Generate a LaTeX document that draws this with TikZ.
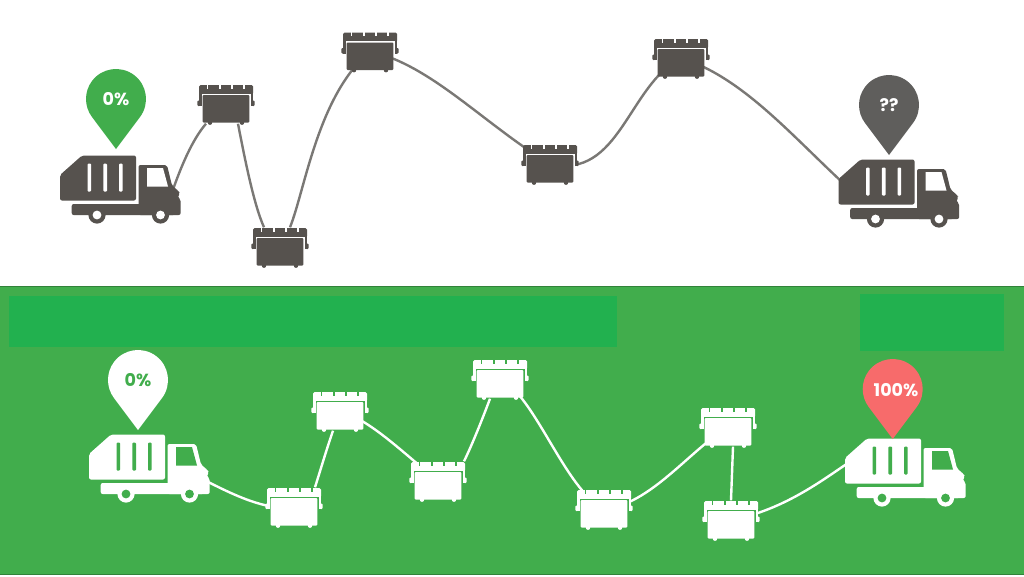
\documentclass[tikz,border=0pt]{standalone}
\usepackage{fontspec}
\setmainfont{Poppins}
\definecolor{darkfg}{HTML}{56524E}
\definecolor{linegray}{HTML}{7A7875}
\definecolor{pingray}{HTML}{5F5E5C}
\definecolor{panel}{HTML}{41AD4C}
\definecolor{band}{HTML}{22B14F}
\definecolor{coral}{HTML}{F76B6B}
\tikzset{
  dumpspot/.style={inner sep=0pt,minimum width=54pt,minimum height=39pt},
  truckspot/.style={inner sep=0pt,minimum width=121pt,minimum height=68pt},
  topline/.style={draw=linegray,line width=2.4pt},
  lowline/.style={draw=white,line width=2.4pt},
  pinlabel/.style={font=\fontsize{17.5}{17.5}\selectfont\bfseries,inner sep=0pt},
  pics/dumpster/.style n args={2}{code={
    \fill[#1,rounded corners=1.5pt] (-27,-19) rectangle (27,-9.5);
    \fill[#1] (-27,-12) rectangle (-24.5,2);
    \fill[#1] (24.5,-12) rectangle (27,2);
    \fill[#1,rounded corners=1pt] (-28.7,-3.5) rectangle (-26,2);
    \fill[#1,rounded corners=1pt] (26,-3.5) rectangle (28.7,2);
    \fill[#2] (-24.5,-10.5) rectangle (24.5,3);
    \fill[#1,rounded corners=1pt] (-23.3,-9) rectangle (23.3,18.5);
    \fill[#1] (-16,18.7) circle (2.2);
    \fill[#1] (16,18.7) circle (2.2);
    \foreach \nx in {-18.5,-6.3,5.7,18}
      \fill[#2] (\nx-0.8,-19.5) rectangle (\nx+0.8,-15.5);
  }},
  pics/garbagetruck/.style n args={2}{code={
    % cargo body
    \fill[#1,rounded corners=2pt] (0,20) -- (0,45.5) -- (76,45.5) -- (76,0.5) -- (22,0.5) -- cycle;
    \foreach \sx in {27.5,43.3,59}
      \fill[#2,rounded corners=1pt] (\sx,8.5) rectangle (\sx+3.7,36.5);
    % chassis
    \fill[#1,rounded corners=2pt] (11.7,49) rectangle (115,60);
    % cab
    \fill[#1,rounded corners=2pt] (78.5,60) -- (78.5,10) -- (107,10) -- (112,30.5) -- (118.5,36) -- (120.5,38.5) -- (117.5,41.5) -- (120.7,44.5) -- (120.7,55) -- (120.7,60) -- cycle;
    \fill[#2] (87,13) -- (103,13) -- (108,31.5) -- (87,31.5) -- cycle;
    % wheels
    \foreach \wx in {37,100.5} {
      \fill[#1] (\wx,60) circle (8.6);
      \fill[#2] (\wx,60) circle (4.4);
    }
  }},
  pics/mapin/.style={code={
    \fill[#1,line join=round] (0,50) -- (24,18) arc[start angle=36.87,end angle=-216.87,radius=30] -- cycle;
  }}
}
\begin{document}
\begin{tikzpicture}[x=1pt,y=-1pt]
\useasboundingbox (0,0) rectangle (1024,576);
\fill[white] (0,0) rectangle (1024,576);
\filldraw[fill=panel,draw=black!25!panel,line width=0.8pt] (-1,286.5) rectangle (1025,574);
\fill[band] (9,296) rectangle (617,347);
\fill[band] (860,294) rectangle (1004,351);

% anchors
\node[truckspot] (t1) at (120.5,189) {};
\node[truckspot] (t2) at (899,193) {};
\node[dumpspot] (d1) at (226,104) {};
\node[dumpspot] (d2) at (280,247) {};
\node[dumpspot] (d3) at (370,51.5) {};
\node[dumpspot] (d4) at (550,164) {};
\node[dumpspot] (d5) at (681,58) {};
\node[truckspot] (t3) at (149.5,468) {};
\node[truckspot] (t4) at (905.5,472) {};
\node[dumpspot] (e1) at (294,507) {};
\node[dumpspot] (e2) at (340,411) {};
\node[dumpspot] (e3) at (438,481) {};
\node[dumpspot] (e4) at (500,379) {};
\node[dumpspot] (e5) at (604,509) {};
\node[dumpspot] (e6) at (728,427) {};
\node[dumpspot] (e7) at (731,520) {};

% connectors, top
\draw[topline] ([xshift=-8pt]t1.east) .. controls (181,167) and (192,140) .. ([xshift=-20pt]d1.south);
\draw[topline] ([xshift=12pt]d1.south) .. controls (245,160) and (254,205) .. ([xshift=-16pt]d2.north);
\draw[topline] ([xshift=10pt]d2.north) .. controls (305,190) and (318,95) .. (d3.center);
\draw[topline] (d3.center) .. controls (430,64) and (485,125) .. (d4.center);
\draw[topline] (d4.center) .. controls (620,180) and (628,85) .. (d5.center);
\draw[topline] (d5.center) .. controls (745,78) and (795,140) .. ([xshift=-45pt]t2.center);
% connectors, bottom
\draw[lowline] ([xshift=-6pt,yshift=-12pt]t3.east) .. controls (228,492) and (250,503) .. ([xshift=-20pt]e1.center);
\draw[lowline] ([xshift=21pt]e1.north) .. controls (322,465) and (327,448) .. ([xshift=-7pt]e2.south);
\draw[lowline] (e2.center) .. controls (370,420) and (400,450) .. (e3.center);
\draw[lowline] ([xshift=26pt]e3.north) .. controls (472,445) and (482,420) .. ([xshift=-10pt]e4.south);
\draw[lowline] (e4.center) .. controls (535,395) and (565,490) .. (e5.center);
\draw[lowline] (e5.center) .. controls (650,505) and (690,450) .. (e6.center);
\draw[lowline] ([xshift=5pt]e6.south) -- (e7.north);
\draw[lowline] (e7.center) .. controls (785,510) and (825,478) .. ([xshift=-53pt,yshift=12pt]t4.center);

% dumpsters
\foreach \dn in {d1,d2,d3,d4,d5}
  \pic at (\dn) {dumpster={darkfg}{white}};
\foreach \dn in {e1,e2,e3,e4,e5,e6,e7}
  \pic at (\dn) {dumpster={white}{panel}};
% trucks
\pic at (60,155) {garbagetruck={darkfg}{white}};
\pic at (838.5,159) {garbagetruck={darkfg}{white}};
\pic at (89,434) {garbagetruck={white}{panel}};
\pic at (845,438) {garbagetruck={white}{panel}};
% pins
\pic at (116,99) {mapin=panel};
\pic at (889,105) {mapin=pingray};
\pic at (138,380) {mapin=white};
\pic at (892.7,389) {mapin=coral};
\node[pinlabel,text=white] (p1) at (116,99.5) {0\%};
\node[pinlabel,text=white] (p2) at (889,105.5) {??};
\node[pinlabel,text=panel] (p3) at (138,380) {0\%};
\node[pinlabel,text=white] (p4) at (896,390) {100\%};
\end{tikzpicture}
\end{document}
